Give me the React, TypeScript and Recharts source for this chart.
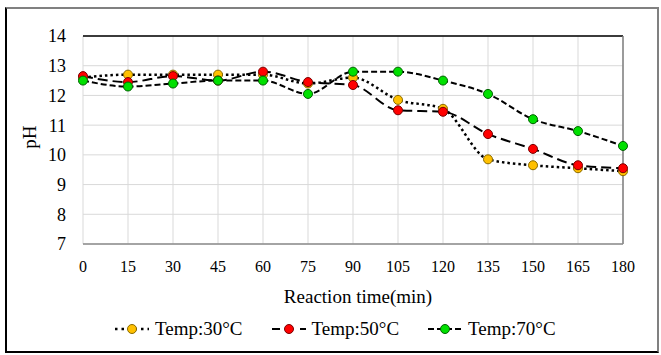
import React from "react";
import { LineChart, Line, XAxis, YAxis, CartesianGrid, ReferenceLine, Label } from "recharts";

// reaction time (min) and pH readings per temperature
const times = [0, 15, 30, 45, 60, 75, 90, 105, 120, 135, 150, 165, 180];
const temp30 = [12.6, 12.7, 12.7, 12.7, 12.7, 12.4, 12.6, 11.85, 11.55, 9.85, 9.65, 9.55, 9.45];
const temp50 = [12.65, 12.45, 12.65, 12.5, 12.8, 12.45, 12.35, 11.5, 11.45, 10.7, 10.2, 9.65, 9.55];
const temp70 = [12.5, 12.3, 12.4, 12.5, 12.5, 12.05, 12.8, 12.8, 12.5, 12.05, 11.2, 10.8, 10.3];
const yTicks = [7, 8, 9, 10, 11, 12, 13, 14];
const seriesNames = ["Temp:30°C", "Temp:50°C", "Temp:70°C"];

const data = times.map((t, i) => ({ time: t, t30: temp30[i], t50: temp50[i], t70: temp70[i] }));

const FONT = "Liberation Serif";

const styles = [
  { key: "t30", fill: "#FFC000", edge: "#8a6a00", dash: "2.5 3", width: 2.5, legendDash: "2.5 4" },
  { key: "t50", fill: "#FF0000", edge: "#7a0000", dash: "10 5", width: 2, legendDash: "8 20" },
  { key: "t70", fill: "#00E000", edge: "#006000", dash: "6 3", width: 2, legendDash: "6 3" },
];

const LegendItem: React.FC<{ idx: number }> = ({ idx }) => {
  const s = styles[idx];
  return (
    <div style={{ display: "flex", alignItems: "center", marginRight: 28 }}>
      <svg width={36} height={14}>
        <line x1={1} y1={7} x2={35} y2={7} stroke="#000" strokeWidth={s.width} strokeDasharray={s.legendDash} />
        <circle cx={18} cy={7} r={4.5} fill={s.fill} stroke={s.edge} strokeWidth={1} />
      </svg>
      <span style={{ marginLeft: 5, fontFamily: FONT }}>{seriesNames[idx]}</span>
    </div>
  );
};

const App: React.FC = () => {
  return (
    <div style={{ position: "absolute", left: 0, top: 0, width: 661, height: 355, background: "#fff", fontFamily: FONT }}>
      <div
        style={{
          position: "absolute",
          left: 5,
          top: 7,
          width: 650,
          height: 342,
          borderLeft: "2px solid #000",
          borderBottom: "2px solid #000",
          borderTop: "2px solid #808080",
          borderRight: "2px solid #808080",
        }}
      />
      <div style={{ position: "absolute", left: 0, top: 0 }}>
        <LineChart width={661} height={355} data={data} margin={{ top: 36, right: 38, left: 0, bottom: 0 }} style={{ fontFamily: FONT }}>
          <CartesianGrid stroke="#d9d9d9" strokeWidth={1} />
          <XAxis
            dataKey="time"
            type="number"
            domain={[0, 180]}
            ticks={times}
            height={111}
            tickSize={0}
            tickMargin={17}
            axisLine={{ stroke: "#8c8c8c", strokeWidth: 1.5 }}
            tick={{ fill: "#000", fontSize: 16, fontFamily: FONT }}
          >
            <Label value="Reaction time(min)" position="insideBottom" offset={52} dx={5} style={{ fill: "#000", fontSize: 19, fontFamily: FONT }} />
          </XAxis>
          <YAxis
            domain={[7, 14]}
            ticks={yTicks}
            width={83}
            tickSize={0}
            tickMargin={17}
            axisLine={false}
            tick={{ fill: "#000", fontSize: 18, fontFamily: FONT }}
          >
            <Label
              content={() => (
                <text x={29} y={137} transform="rotate(-90 29 137)" textAnchor="middle" dominantBaseline="central" fill="#000" fontSize={19} fontFamily={FONT}>
                  pH
                </text>
              )}
            />
          </YAxis>
          <ReferenceLine y={14} stroke="#000" strokeWidth={1.5} />
          <ReferenceLine x={180} stroke="#808080" strokeWidth={1.5} />
          {styles.map((s) => (
            <Line
              key={s.key}
              type="monotone"
              dataKey={s.key}
              stroke="#000"
              strokeWidth={s.width}
              strokeDasharray={s.dash}
              dot={{ r: 4.5, fill: s.fill, stroke: s.edge, strokeWidth: 1, strokeDasharray: "" }}
              isAnimationActive={false}
            />
          ))}
        </LineChart>
      </div>
      <div
        style={{
          position: "absolute",
          left: 114,
          top: 318,
          display: "flex",
          alignItems: "center",
          fontSize: 19,
          color: "#000",
          fontFamily: FONT,
        }}
      >
        <LegendItem idx={0} />
        <LegendItem idx={1} />
        <LegendItem idx={2} />
      </div>
    </div>
  );
};

export default App;
